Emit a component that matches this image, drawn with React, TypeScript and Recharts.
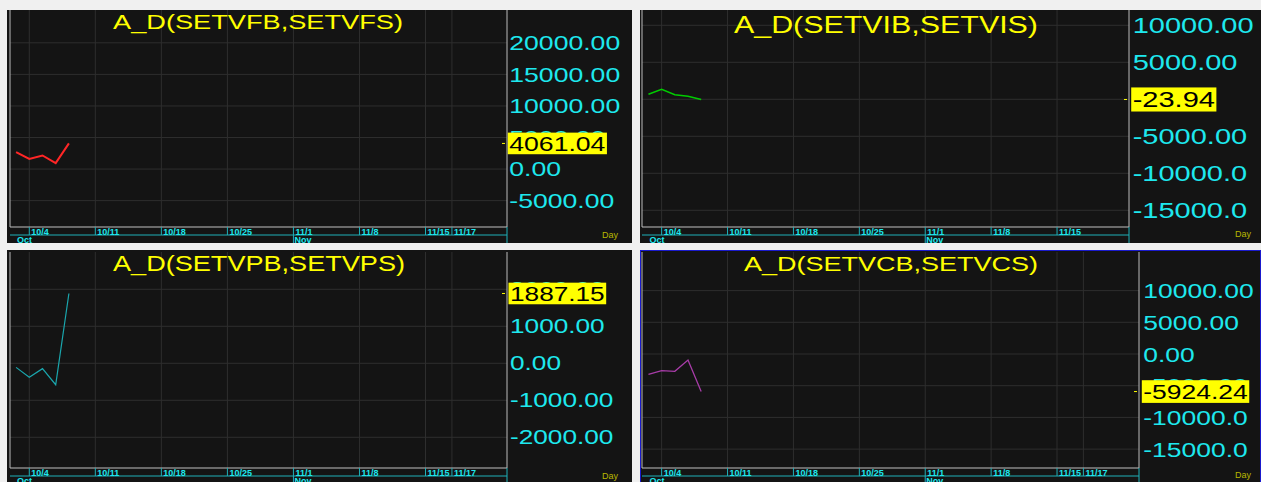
import { LineChart, Line, XAxis, YAxis, CartesianGrid } from "recharts";

const FONT = "'Liberation Sans', Arial, Helvetica, sans-serif";
const CYAN = "#1ee8ee";
const CYAN_LINE = "#1fb0b8";
const YELLOW = "#ffff00";

// trading-day index, 0 = 10/1
const POINT_INDEX = [0, 1, 2, 3, 4];
const FB_VALUES = [2700, 1600, 2150, 950, 4061.04];
const IB_VALUES = [680, 1350, 620, 400, -23.94];
const PB_VALUES = [-110, -380, -145, -580, 1887.15];
const CB_VALUES = [-3200, -2630, -2730, -950, -5924.24];

const DAY_TICKS = [1, 6, 11, 16, 21, 26, 31, 33];
const DAY_LABELS = ["10/4", "10/11", "10/18", "10/25", "11/1", "11/8", "11/15", "11/17"];
const MONTH_TICKS = [0, 21];
const MONTH_LABELS = ["Oct", "Nov"];

const FB_TICKS = [-5000, 0, 5000, 10000, 15000, 20000];
const IB_TICKS = [-15000, -10000, -5000, 0, 5000, 10000];
const PB_TICKS = [-2000, -1000, 0, 1000, 2000];
const CB_TICKS = [-15000, -10000, -5000, 0, 5000, 10000];

type Cfg = {
  title: string;
  values: number[];
  color: string;
  lw: number;
  left: number;
  top: number;
  width: number;
  height: number;
  ml: number;
  mt: number;
  axisW: number;
  xDomain: [number, number];
  yDomain: [number, number];
  yTicks: number[];
  minor: number;
  dayTicks: number[];
  fs: number;
  sx: number;
  pad: number;
  tx: number;
  ty: number;
  tfs: number;
  tlen: number;
  dayY: number;
  border?: boolean;
};

const PANELS: Cfg[] = [
  {
    title: "A_D(SETVFB,SETVFS)", values: FB_VALUES, color: "#ff2626", lw: 2,
    left: 7, top: 10, width: 625, height: 233, ml: 3, mt: 0, axisW: 125,
    xDomain: [-0.46, 37.17], yDomain: [-9180, 25200], yTicks: FB_TICKS, minor: 1000,
    dayTicks: DAY_TICKS, fs: 20, sx: 1.33, pad: 2.3,
    tx: 106, ty: 19.3, tfs: 20, tlen: 290, dayY: 228,
  },
  {
    title: "A_D(SETVIB,SETVIS)", values: IB_VALUES, color: "#00cc00", lw: 1.5,
    left: 640, top: 10, width: 621, height: 233, ml: 2, mt: 0, axisW: 132,
    xDomain: [-0.49, 36.46], yDomain: [-17257, 12068], yTicks: IB_TICKS, minor: 1000,
    dayTicks: DAY_TICKS.slice(0, 7), fs: 22.3, sx: 1.3, pad: 3.7,
    tx: 94, ty: 22.7, tfs: 24, tlen: 304, dayY: 227,
  },
  {
    title: "A_D(SETVPB,SETVPS)", values: PB_VALUES, color: "#1aa6ad", lw: 1.2,
    left: 7, top: 250, width: 625, height: 234, ml: 3, mt: 2, axisW: 125,
    xDomain: [-0.46, 37.17], yDomain: [-2830, 3008], yTicks: PB_TICKS, minor: 200,
    dayTicks: DAY_TICKS, fs: 20, sx: 1.31, pad: 3,
    tx: 106, ty: 21, tfs: 22, tlen: 292, dayY: 229,
  },
  {
    title: "A_D(SETVCB,SETVCS)", values: CB_VALUES, color: "#a83ca8", lw: 1.3,
    left: 640, top: 250, width: 621, height: 234, ml: 2, mt: 2, axisW: 122,
    xDomain: [-0.49, 37.22], yDomain: [-17981, 16088], yTicks: CB_TICKS, minor: 1000,
    dayTicks: DAY_TICKS, fs: 21, sx: 1.26, pad: 4.3,
    tx: 104, ty: 21, tfs: 21, tlen: 294, dayY: 228, border: true,
  },
];

function fmt(v: number) {
  const s = v.toFixed(2);
  return s.length > 8 ? s.slice(0, 8) : s;
}

function textW(s: string) {
  let w = 0;
  for (const c of s) w += c === "." ? 0.278 : c === "-" ? 0.333 : 0.556;
  return w;
}

function minorTicks(domain: [number, number], step: number) {
  const out: number[] = [];
  for (let v = Math.ceil(domain[0] / step) * step; v <= domain[1]; v += step) out.push(v);
  return out;
}

function PriceTick(props: any) {
  const { x, y, payload, cfg } = props;
  const v = payload.value;
  const label = fmt(v);
  const last = cfg.values[cfg.values.length - 1];
  const tx = x + cfg.pad;
  const t = (
    <text
      transform={`translate(${tx},${y + cfg.fs * 0.358}) scale(${cfg.sx},1)`}
      fontSize={cfg.fs}
      fontFamily={FONT}
      fill={v === last ? "#000" : CYAN}
    >
      {label}
    </text>
  );
  if (v !== last) return t;
  const w = textW(label) * cfg.fs * cfg.sx;
  const h = cfg.fs * 1.08;
  return (
    <g>
      <line x1={x - 5} x2={x - 2} y1={y} y2={y} stroke={YELLOW} />
      <rect x={tx - 1.5} y={y - h / 2} width={w + 3} height={h} fill={YELLOW} />
      {t}
    </g>
  );
}

function DayTick(props: any) {
  const { x, y, payload } = props;
  const i = DAY_TICKS.indexOf(payload.value);
  return (
    <g>
      <line x1={x} x2={x} y1={y} y2={y + 8} stroke={CYAN_LINE} />
      {i >= 0 && (
        <text x={x + 2} y={y + 7.5} fontSize={9} fontWeight="bold" fontFamily={FONT} fill={CYAN}>
          {DAY_LABELS[i]}
        </text>
      )}
    </g>
  );
}

function MonthTick(props: any) {
  const { x, y, payload } = props;
  const i = MONTH_TICKS.indexOf(payload.value);
  return (
    <g>
      {payload.value !== 0 && <line x1={x} x2={x} y1={y} y2={y + 8} stroke={CYAN_LINE} />}
      {i >= 0 && (
        <text x={x + 1} y={y + 7.5} fontSize={9} fontWeight="bold" fontFamily={FONT} fill={CYAN}>
          {MONTH_LABELS[i]}
        </text>
      )}
    </g>
  );
}

function Panel({ cfg }: { cfg: Cfg }) {
  const data = POINT_INDEX.map((i, k) => ({ i, v: cfg.values[k] }));
  const last = cfg.values[cfg.values.length - 1];
  const minor = minorTicks(cfg.yDomain, cfg.minor);
  const xmax = cfg.xDomain[1];
  return (
    <div
      style={{
        position: "absolute",
        left: cfg.left,
        top: cfg.top,
        width: cfg.width,
        height: cfg.height,
        background: "#141414",
      }}
    >
      <LineChart
        width={cfg.width}
        height={cfg.height}
        data={data}
        margin={{ top: cfg.mt, left: cfg.ml, right: 0, bottom: 0 }}
      >
        <CartesianGrid
          xAxisId="d"
          yAxisId="y"
          stroke="#2e2e2e"
          horizontalValues={cfg.yTicks}
          verticalValues={cfg.dayTicks}
        />
        <XAxis
          xAxisId="d"
          dataKey="i"
          type="number"
          domain={cfg.xDomain}
          allowDataOverflow
          ticks={[...cfg.dayTicks, xmax]}
          interval={0}
          height={8}
          tickSize={0}
          tickMargin={0}
          tickLine={false}
          axisLine={{ stroke: "#c0c0c0" }}
          tick={(p: any) => <DayTick {...p} />}
        />
        <XAxis
          xAxisId="m"
          dataKey="i"
          type="number"
          domain={cfg.xDomain}
          allowDataOverflow
          ticks={[...MONTH_TICKS, xmax]}
          interval={0}
          height={8}
          tickSize={0}
          tickMargin={0}
          tickLine={false}
          axisLine={{ stroke: CYAN_LINE }}
          tick={(p: any) => <MonthTick {...p} />}
        />
        <YAxis
          yAxisId="l"
          orientation="left"
          mirror
          width={1}
          type="number"
          domain={cfg.yDomain}
          allowDataOverflow
          ticks={minor}
          interval={0}
          tick={false}
          tickSize={2}
          tickLine={{ stroke: "#bbbbbb" }}
          axisLine={{ stroke: "#bbbbbb" }}
        />
        <YAxis
          yAxisId="r"
          orientation="right"
          mirror
          width={1}
          type="number"
          domain={cfg.yDomain}
          allowDataOverflow
          ticks={minor}
          interval={0}
          tick={false}
          tickSize={2}
          tickLine={{ stroke: "#bbbbbb" }}
          axisLine={{ stroke: "#bbbbbb" }}
        />
        <YAxis
          yAxisId="y"
          orientation="right"
          width={cfg.axisW}
          type="number"
          domain={cfg.yDomain}
          allowDataOverflow
          ticks={[...cfg.yTicks, last]}
          interval={0}
          tickSize={0}
          tickMargin={0}
          tickLine={false}
          axisLine={false}
          tick={(p: any) => <PriceTick {...p} cfg={cfg} />}
        />
        <Line
          xAxisId="d"
          yAxisId="y"
          type="linear"
          dataKey="v"
          stroke={cfg.color}
          strokeWidth={cfg.lw}
          dot={false}
          isAnimationActive={false}
        />
      </LineChart>
      <svg
        width={cfg.width}
        height={cfg.height}
        style={{ position: "absolute", left: 0, top: 0, pointerEvents: "none" }}
      >
        <text
          x={cfg.tx}
          y={cfg.ty}
          fontSize={cfg.tfs}
          fontFamily={FONT}
          fill={YELLOW}
          textLength={cfg.tlen}
          lengthAdjust="spacingAndGlyphs"
        >
          {cfg.title}
        </text>
        <text x={595} y={cfg.dayY} fontSize={9} fontFamily={FONT} fill="#b8b800">
          Day
        </text>
      </svg>
      {cfg.border && (
        <div
          style={{
            position: "absolute",
            left: 0,
            top: 0,
            right: 0,
            bottom: 0,
            border: "1px solid #1a1acc",
            pointerEvents: "none",
          }}
        />
      )}
    </div>
  );
}

export default function App() {
  return (
    <div
      style={{
        position: "fixed",
        left: 0,
        top: 0,
        width: 1261,
        height: 482,
        overflow: "hidden",
        background: "#f0f0f0",
      }}
    >
      {PANELS.map((cfg) => (
        <Panel key={cfg.title} cfg={cfg} />
      ))}
    </div>
  );
}
